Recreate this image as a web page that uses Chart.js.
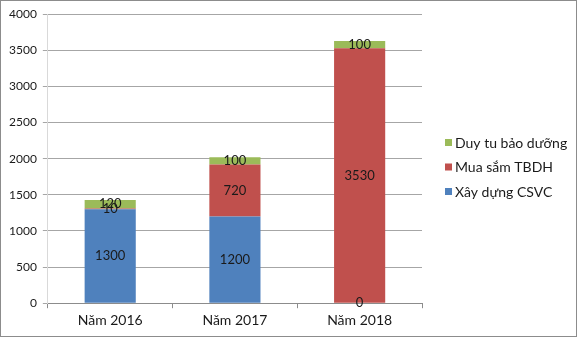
<!DOCTYPE html>
<html>
<head>
<meta charset="utf-8">
<script src="https://cdn.jsdelivr.net/npm/chart.js@4"></script>
<style>
  html, body { margin: 0; padding: 0; background: #fff; }
  #wrap { width: 575px; height: 335px; border: 1px solid #8c8c8c; }
  canvas { display: block; }
</style>
</head>
<body>
<div id="wrap"><canvas id="chart" width="575" height="335"></canvas></div>
<script>
// nhãn và số liệu
const categories = ["Năm 2016", "Năm 2017", "Năm 2018"];
const xayDung = [1300, 1200, 0];
const muaSam = [10, 720, 3530];
const duyTu = [120, 100, 100];
const seriesNames = ["Xây dựng CSVC", "Mua sắm TBDH", "Duy tu bảo dưỡng"];
const seriesColors = ["#4F81BD", "#C0504D", "#9BBB59"];

const FONT = "Lato, 'Open Sans', sans-serif";

// ghi giá trị vào giữa mỗi đoạn cột
const valueLabels = {
    id: "valueLabels",
    afterDatasetsDraw(chart) {
        const ctx = chart.ctx;
        ctx.save();
        ctx.font = "13px " + FONT;
        ctx.fillStyle = "#1a1a1a";
        ctx.textAlign = "center";
        ctx.textBaseline = "middle";
        chart.data.datasets.forEach((ds, i) => {
            const meta = chart.getDatasetMeta(i);
            meta.data.forEach((bar, j) => {
                const y = (bar.y + bar.base) / 2;
                ctx.fillText(String(ds.data[j]), bar.x, y);
            });
        });
        ctx.restore();
    }
};

// chú thích bên phải, thứ tự ngược
const sideLegend = {
    id: "sideLegend",
    afterDraw(chart) {
        const ctx = chart.ctx;
        ctx.save();
        ctx.font = "14px " + FONT;
        ctx.textBaseline = "middle";
        ctx.textAlign = "left";
        const items = chart.data.datasets.slice().reverse();
        items.forEach((ds, k) => {
            const y = 142 + k * 24.5;
            ctx.fillStyle = ds.backgroundColor;
            ctx.fillRect(444, y - 4, 7, 7);
            ctx.fillStyle = "#1a1a1a";
            ctx.fillText(ds.label, 454, y);
        });
        ctx.restore();
    }
};

const ctx = document.getElementById("chart").getContext("2d");
const chart = new Chart(ctx, {
    type: "bar",
    data: {
        labels: categories,
        datasets: [
            { label: seriesNames[0], data: xayDung, backgroundColor: seriesColors[0] },
            { label: seriesNames[1], data: muaSam, backgroundColor: seriesColors[1] },
            { label: seriesNames[2], data: duyTu, backgroundColor: seriesColors[2] }
        ]
    },
    options: {
        responsive: false,
        animation: false,
        layout: { padding: { left: 2, right: 154, top: 8, bottom: 3 } },
        datasets: { bar: { barPercentage: 0.41, categoryPercentage: 1 } },
        plugins: { legend: { display: false }, tooltip: { enabled: false } },
        scales: {
            x: {
                stacked: true,
                grid: { display: true, drawOnChartArea: false, offset: true, color: "#8c8c8c", tickLength: 5 },
                border: { color: "#8c8c8c" },
                ticks: { color: "#1a1a1a", font: { family: FONT, size: 14 }, padding: 4 }
            },
            y: {
                stacked: true,
                min: 0,
                max: 4000,
                grid: { color: "#a6a6a6", tickLength: 5 },
                border: { color: "#d9d9d9" },
                ticks: {
                    stepSize: 500,
                    color: "#1a1a1a",
                    font: { family: FONT, size: 12 },
                    padding: 6,
                    callback: v => String(v)
                }
            }
        }
    },
    plugins: [valueLabels, sideLegend]
});
</script>
</body>
</html>
